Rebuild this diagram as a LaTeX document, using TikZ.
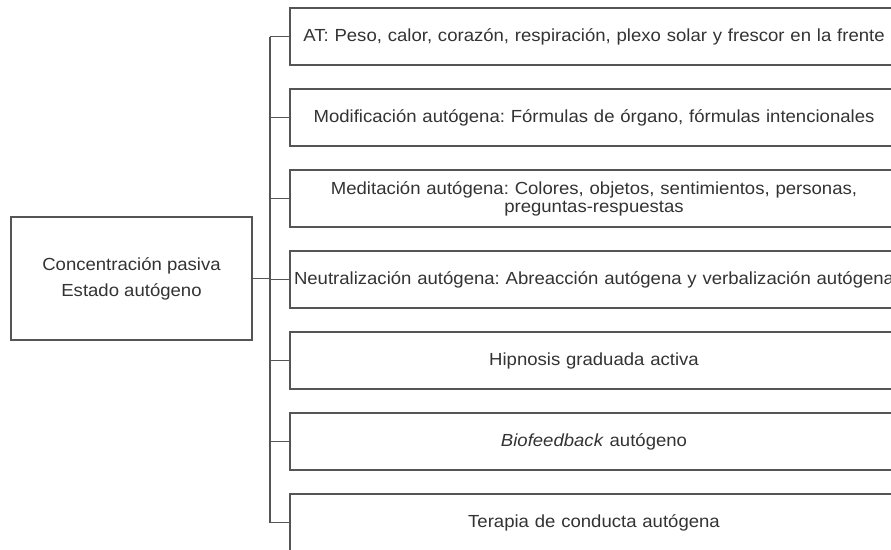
\documentclass[tikz,border=0pt]{standalone}
\usepackage{fontspec}
\setmainfont{Liberation Sans}[FakeStretch=1.06]
\definecolor{inkgray}{HTML}{333333}
\definecolor{linegray}{HTML}{555555}
\tikzset{
  branch/.style={draw=linegray, line width=1.2pt, text=inkgray,
    minimum width=608pt, minimum height=57pt, text width=600pt,
    inner xsep=4pt, align=center, font=\fontsize{17.5}{18}\selectfont},
  rootbox/.style={draw=linegray, line width=1.2pt, text=inkgray,
    minimum width=241pt, minimum height=123pt, align=center,
    font=\fontsize{17.5}{26}\selectfont},
  link/.style={draw=linegray, line width=1.2pt}
}
\frenchspacing
\begin{document}
\begin{tikzpicture}[x=1pt, y=-1pt]
  \useasboundingbox (0,0) rectangle (891,549);
  \clip (0,0) rectangle (891,549);

  % root box
  \node[rootbox] (root) at (131.5,278.5) {Concentración pasiva\\Estado autógeno};

  % branches
  \node[branch] (b1) at (594,36.5) {AT: Peso, calor, corazón, respiración, plexo solar y frescor en la frente};
  \node[branch] (b2) at (594,117.5) {Modificación autógena: Fórmulas de órgano, fórmulas intencionales};
  \node[branch] (b3) at (594,198.5) {Meditación autógena: Colores, objetos, sentimientos, personas,\\preguntas-respuestas};
  \node[branch] (b4) at (594,279.5) {\mbox{Neutralización autógena: Abreacción autógena y verbalización autógena}};
  \node[branch] (b5) at (594,360.5) {Hipnosis graduada activa};
  \node[branch] (b6) at (594,441.5) {\textit{Biofeedback} autógeno};
  \node[branch] (b7) at (594,522.5) {Terapia de conducta autógena};

  % spine
  \coordinate (top) at (270,0 |- b1.west);
  \coordinate (bot) at (270,0 |- b7.west);
  \coordinate (mid) at (270,0 |- root.east);
  \draw[link] (top) -- (bot);
  \draw[link] (root.east) -- (mid);
  \draw[link] (top) -- (b1.west);
  \draw[link] (top |- b2.west) -- (b2.west);
  \draw[link] (top |- b3.west) -- (b3.west);
  \draw[link] (top |- b4.west) -- (b4.west);
  \draw[link] (top |- b5.west) -- (b5.west);
  \draw[link] (top |- b6.west) -- (b6.west);
  \draw[link] (bot) -- (b7.west);
\end{tikzpicture}
\end{document}
